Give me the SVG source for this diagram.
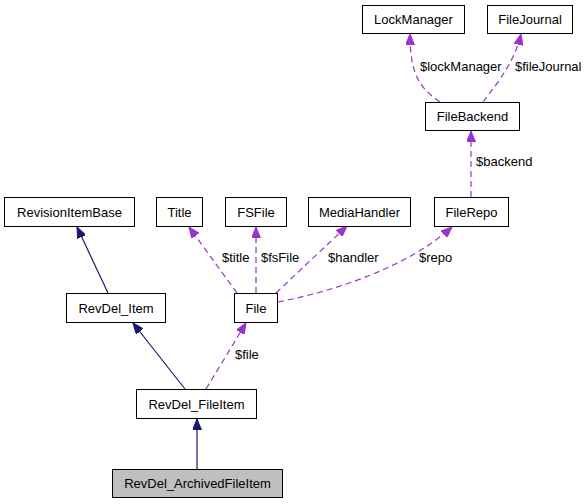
<svg xmlns="http://www.w3.org/2000/svg" width="587" height="504" viewBox="0 0 587 504">
<style>
.box{fill:#fff;stroke:#000;stroke-width:1}
.t{font-family:"Liberation Sans",Arial,sans-serif;font-size:13px;fill:#000;text-anchor:middle}
.l{font-family:"Liberation Sans",Arial,sans-serif;font-size:13px;fill:#000}
.inh{fill:none;stroke:#191970;stroke-width:1.2}
.use{fill:none;stroke:#9a32cd;stroke-width:1.2;stroke-dasharray:6,4}
</style>
<defs>
<marker id="an" viewBox="0 0 11 9" refX="11" refY="4.5" markerWidth="11" markerHeight="9" markerUnits="userSpaceOnUse" orient="auto">
<path d="M0,0 L11,4.5 L0,9 z" fill="#191970" stroke="#191970" stroke-width="1" stroke-dasharray="none"/>
</marker>
<marker id="ap" viewBox="0 0 11 9" refX="11" refY="4.5" markerWidth="11" markerHeight="9" markerUnits="userSpaceOnUse" orient="auto">
<path d="M0,0 L11,4.5 L0,9 z" fill="#9a32cd" stroke="#9a32cd" stroke-width="1" stroke-dasharray="none"/>
</marker>
</defs>
<g id="edges">
<path class="inh" d="M108,293 L77,227" marker-end="url(#an)"/>
<path class="inh" d="M185,389 L133,323" marker-end="url(#an)"/>
<path class="inh" d="M197,469 L197,419" marker-end="url(#an)"/>
<path class="use" d="M206,389 L246,323" marker-end="url(#ap)"/>
<path class="use" d="M237,293 L189,227" marker-end="url(#ap)"/>
<path class="use" d="M256,293 L256,227" marker-end="url(#ap)"/>
<path class="use" d="M276,293 L347,226" marker-end="url(#ap)"/>
<path class="use" d="M278,302 C340,290 410,265 452,227" marker-end="url(#ap)"/>
<path class="use" d="M471,197 L471,131" marker-end="url(#ap)"/>
<path class="use" d="M440,102 C420,88 410,75 410,34" marker-end="url(#ap)"/>
<path class="use" d="M483,102 C500,80 515,60 521,34" marker-end="url(#ap)"/>
<text class="l" x="235" y="359">$file</text>
<text class="l" x="222" y="262">$title</text>
<text class="l" x="261" y="262">$fsFile</text>
<text class="l" x="328" y="262">$handler</text>
<text class="l" x="419" y="262">$repo</text>
<text class="l" x="476" y="166">$backend</text>
<text class="l" x="420" y="71">$lockManager</text>
<text class="l" x="515" y="71">$fileJournal</text>
</g>
<g id="RevisionItemBase"><rect class="box" x="4.5" y="197.5" width="130" height="29"/><text class="t" x="69.5" y="216.5">RevisionItemBase</text></g>
<g id="Title"><rect class="box" x="156.5" y="197.5" width="46" height="29"/><text class="t" x="179.5" y="216.5">Title</text></g>
<g id="FSFile"><rect class="box" x="225.5" y="197.5" width="61" height="29"/><text class="t" x="256" y="216.5">FSFile</text></g>
<g id="MediaHandler"><rect class="box" x="308.5" y="197.5" width="102" height="29"/><text class="t" x="359.5" y="216.5">MediaHandler</text></g>
<g id="FileRepo"><rect class="box" x="434.5" y="197.5" width="74" height="29"/><text class="t" x="471.5" y="216.5">FileRepo</text></g>
<g id="LockManager"><rect class="box" x="362.5" y="5.5" width="102" height="28"/><text class="t" x="413.5" y="24">LockManager</text></g>
<g id="FileJournal"><rect class="box" x="487.5" y="5.5" width="85" height="28"/><text class="t" x="530" y="24">FileJournal</text></g>
<g id="FileBackend"><rect class="box" x="425.5" y="102.5" width="94" height="28"/><text class="t" x="472.5" y="121">FileBackend</text></g>
<g id="RevDel_Item"><rect class="box" x="66.5" y="293.5" width="99" height="29"/><text class="t" x="116" y="312.5">RevDel_Item</text></g>
<g id="File"><rect class="box" x="234.5" y="293.5" width="43" height="29"/><text class="t" x="256" y="312.5">File</text></g>
<g id="RevDel_FileItem"><rect class="box" x="136.5" y="389.5" width="120" height="29"/><text class="t" x="196.5" y="408.5">RevDel_FileItem</text></g>
<g id="RevDel_ArchivedFileItem"><rect class="box" x="112.5" y="469.5" width="170" height="28" style="fill:#bfbfbf"/><text class="t" x="197.5" y="488">RevDel_ArchivedFileItem</text></g>
</svg>
